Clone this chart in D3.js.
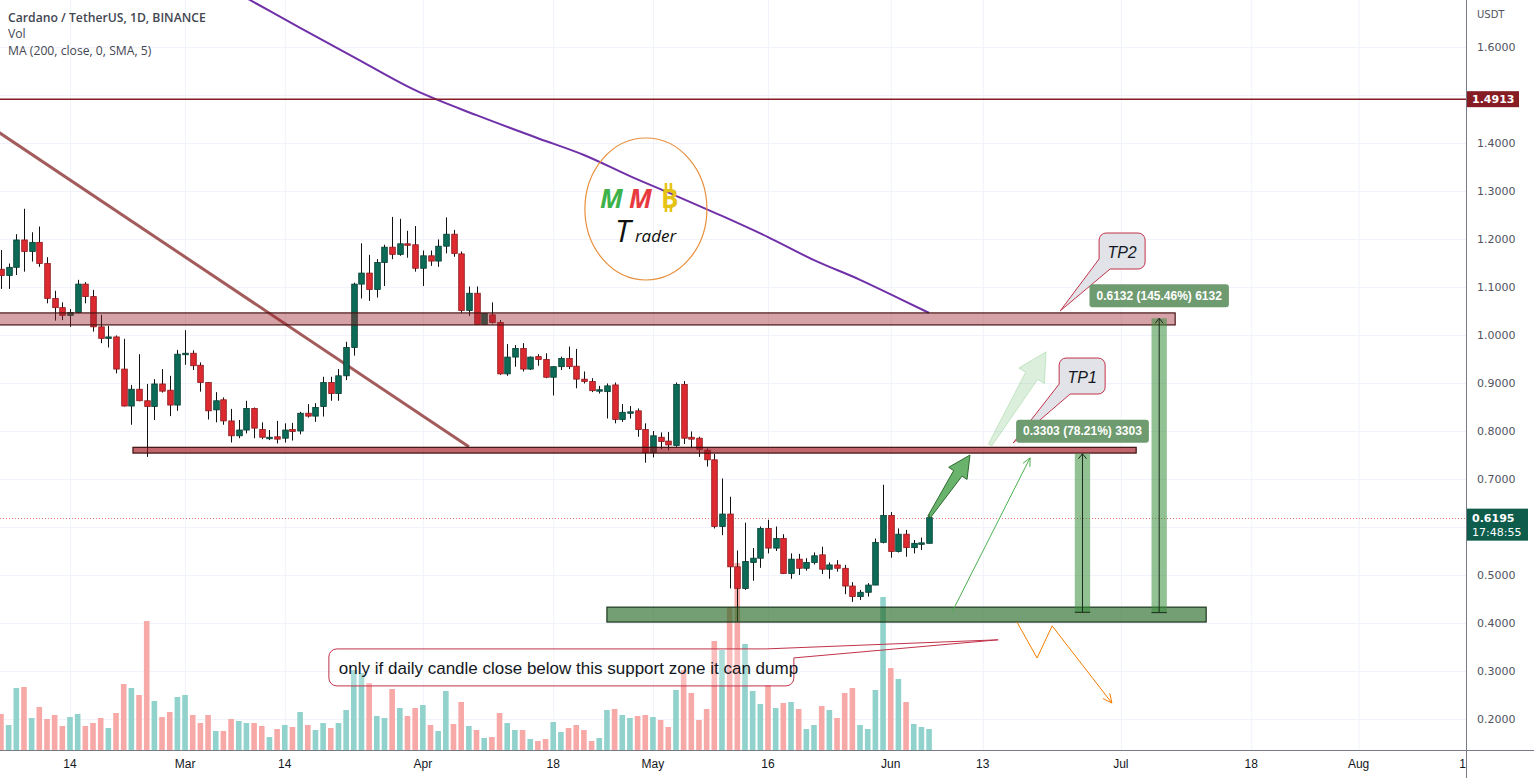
<!DOCTYPE html>
<html><head><meta charset="utf-8">
<script src="https://cdn.jsdelivr.net/npm/d3@7"></script>
<style>html,body{margin:0;padding:0;background:#fff;overflow:hidden}svg{display:block}</style>
</head><body>
<svg id="c" width="1534" height="778"></svg>
<script>
// ---------------- DATA ----------------
const firstDay = "2022-02-05", lastDay = "2022-06-06";
const dates = d3.utcDay.range(new Date(firstDay), d3.utcDay.offset(new Date(lastDay), 1));
const opens  = [1.137,1.124,1.141,1.198,1.174,1.193,1.149,1.076,1.057,1.041,1.047,1.106,1.080,1.017,0.995,0.996,0.929,0.852,0.887,0.863,0.851,0.898,0.885,0.854,0.961,0.962,0.937,0.901,0.844,0.865,0.821,0.790,0.802,0.847,0.803,0.786,0.788,0.785,0.803,0.800,0.837,0.831,0.851,0.901,0.878,0.915,0.974,1.106,1.129,1.095,1.151,1.183,1.168,1.190,1.188,1.139,1.165,1.154,1.185,1.210,1.169,1.051,1.087,1.022,1.042,1.026,0.919,0.954,0.972,0.929,0.955,0.949,0.912,0.934,0.951,0.935,0.908,0.903,0.885,0.882,0.896,0.824,0.838,0.842,0.803,0.755,0.787,0.779,0.770,0.897,0.787,0.785,0.760,0.740,0.601,0.627,0.517,0.472,0.526,0.535,0.597,0.556,0.576,0.503,0.533,0.514,0.526,0.542,0.512,0.521,0.514,0.477,0.455,0.464,0.479,0.568,0.624,0.549,0.585,0.557,0.566,0.566];
const highs  = [1.177,1.149,1.210,1.263,1.214,1.226,1.162,1.092,1.068,1.054,1.115,1.110,1.094,1.042,1.019,0.999,0.992,0.896,0.960,0.898,0.908,0.929,0.915,0.969,1.010,0.968,0.943,0.902,0.881,0.870,0.846,0.823,0.863,0.849,0.818,0.802,0.821,0.816,0.817,0.840,0.856,0.858,0.913,0.913,0.929,0.986,1.109,1.191,1.167,1.158,1.188,1.246,1.242,1.217,1.227,1.176,1.176,1.199,1.245,1.219,1.174,1.101,1.101,1.046,1.068,1.031,0.981,0.979,0.983,0.955,0.960,0.962,0.935,0.955,0.976,0.971,0.924,0.910,0.894,0.899,0.901,0.856,0.852,0.847,0.816,0.800,0.797,0.798,0.901,0.904,0.799,0.788,0.764,0.752,0.701,0.663,0.551,0.609,0.556,0.601,0.615,0.601,0.585,0.545,0.544,0.535,0.547,0.559,0.526,0.531,0.521,0.485,0.469,0.483,0.576,0.688,0.631,0.597,0.594,0.573,0.578,0.628];
const lows   = [1.096,1.096,1.125,1.132,1.153,1.142,1.066,1.030,1.031,1.017,1.045,1.066,1.007,0.983,0.974,0.920,0.851,0.813,0.862,0.746,0.823,0.880,0.831,0.842,0.938,0.927,0.882,0.824,0.818,0.813,0.776,0.785,0.795,0.785,0.783,0.781,0.774,0.776,0.780,0.793,0.828,0.819,0.830,0.863,0.863,0.906,0.957,1.076,1.071,1.078,1.102,1.158,1.165,1.161,1.132,1.102,1.144,1.142,1.170,1.163,1.046,1.040,1.021,1.021,1.024,0.917,0.915,0.934,0.924,0.927,0.936,0.910,0.874,0.927,0.929,0.889,0.899,0.881,0.878,0.826,0.816,0.819,0.826,0.788,0.734,0.745,0.762,0.760,0.767,0.773,0.764,0.746,0.726,0.597,0.583,0.472,0.403,0.469,0.488,0.515,0.545,0.550,0.502,0.492,0.500,0.509,0.522,0.502,0.492,0.507,0.460,0.444,0.448,0.455,0.479,0.566,0.536,0.547,0.538,0.545,0.552,0.566];
const closes = [1.124,1.141,1.198,1.174,1.193,1.149,1.076,1.057,1.041,1.047,1.106,1.080,1.017,0.993,0.996,0.929,0.852,0.887,0.863,0.851,0.898,0.883,0.854,0.960,0.962,0.936,0.901,0.842,0.863,0.821,0.790,0.802,0.847,0.806,0.787,0.787,0.783,0.802,0.799,0.837,0.831,0.849,0.901,0.878,0.915,0.974,1.106,1.129,1.095,1.151,1.183,1.168,1.190,1.188,1.139,1.165,1.154,1.185,1.210,1.170,1.051,1.087,1.022,1.045,1.026,0.919,0.954,0.972,0.929,0.954,0.949,0.912,0.934,0.951,0.934,0.908,0.903,0.884,0.886,0.894,0.824,0.839,0.840,0.803,0.755,0.790,0.778,0.771,0.897,0.785,0.783,0.762,0.740,0.601,0.627,0.517,0.472,0.528,0.535,0.597,0.556,0.576,0.503,0.533,0.514,0.526,0.540,0.512,0.521,0.514,0.477,0.455,0.464,0.479,0.568,0.624,0.549,0.585,0.557,0.566,0.567,0.6195];
const volumes = [180,125,310,315,160,215,155,175,120,165,180,120,135,160,110,185,330,310,275,645,245,165,190,265,275,175,135,175,95,95,155,145,135,135,120,65,105,125,115,190,125,100,135,110,135,200,400,385,335,170,160,305,210,170,210,225,125,95,295,130,240,120,100,60,65,185,135,100,100,55,45,55,140,90,110,125,100,45,60,200,205,175,160,170,175,165,150,115,300,400,285,150,205,545,500,715,935,530,295,230,325,210,235,240,205,105,125,220,200,160,285,310,125,105,300,765,410,355,240,130,115,105];
const maDates  = ["2022-03-04","2022-03-09","2022-03-16","2022-03-23","2022-03-31","2022-04-08","2022-04-16","2022-04-22","2022-04-28","2022-05-04","2022-05-10","2022-05-16","2022-05-22","2022-05-28","2022-06-02","2022-06-06"];
const maValues = [1.746,1.702,1.640,1.579,1.510,1.458,1.410,1.375,1.331,1.290,1.248,1.204,1.156,1.115,1.077,1.046];
const priceTicks = [0.2,0.3,0.4,0.5,0.6,0.7,0.8,0.9,1.0,1.1,1.2,1.3,1.4,1.5,1.6];
const hiddenPriceTicks = [0.6,1.5];   // covered by the price labels in the reference
const timeTicks = ["2022-02-14","2022-03-01","2022-03-14","2022-04-01","2022-04-18","2022-05-01","2022-05-16","2022-06-01","2022-06-13","2022-07-01","2022-07-18","2022-08-01","2022-08-15"];
const timeTickLabels = ["14","Mar","14","Apr","18","May","16","Jun","13","Jul","18","Aug","15"];
const lastPrice = 0.6195, lastCountdown = "17:48:55";
const hLinePrice = 1.4913;
const resistanceZone = {from:"2022-01-20", to:"2022-07-08T02:00Z", top:1.046, bottom:1.021};
const midZone = {from:"2022-02-22T05:00Z", to:"2022-07-03", top:0.766, bottom:0.754};
const supportZone = {from:"2022-04-25", to:"2022-07-12T03:00Z", top:0.433, bottom:0.402};
const trendLine = [["2022-02-04",1.430],["2022-04-07",0.767]];
const ranges = [
  {from:"2022-06-25", to:"2022-06-27", p0:0.4223, p1:0.7526, label:"0.3303 (78.21%) 3303"},
  {from:"2022-07-05", to:"2022-07-07", p0:0.4216, p1:1.0348, label:"0.6132 (145.46%) 6132"}];
const solidArrow = [["2022-06-06",0.621],["2022-06-11T08:00Z",0.75]];
const fadedArrow = [["2022-06-13T23:00Z",0.771],["2022-06-21T06:00Z",0.965]];
const thinArrow  = [["2022-06-09",0.423],["2022-06-19T04:00Z",0.744]];
const zigzag = [["2022-06-17T11:00Z",0.402],["2022-06-20T02:00Z",0.327],["2022-06-22T01:00Z",0.394],["2022-06-29T20:00Z",0.2333]];
const callouts = [
  {text:"TP2", box:["2022-06-28T04:00Z",1.2125], tip:["2022-06-23T02:00Z",1.05]},
  {text:"TP1", box:["2022-06-22T23:00Z",0.952], tip:["2022-06-16T23:00Z",0.775]}];
const note = {text:"only if daily candle close below this support zone it can dump", box:["2022-03-19T18:00Z",0.346], tip:["2022-06-15",0.365]};
const logoAt = ["2022-04-30T02:00Z",1.2625];

// ---------------- SCALES ----------------
const PR = 1466, PB = 750;
const x = d3.scaleUtc().domain([new Date("2022-02-14"), new Date("2022-08-15")]).range([70, PR]);
const y = d3.scaleLinear().domain([0.2, 1.6]).range([719, 47]);
const yv = d3.scaleLinear().domain([0, 1000]).range([PB, PB - 200]);
const X = s => x(new Date(s)), P = a => [X(a[0]), y(a[1])];

const svg = d3.select("#c");
svg.append("rect").attr("width",1534).attr("height",778).attr("fill","#fff");
svg.append("defs").append("clipPath").attr("id","clip").append("rect").attr("x",0).attr("y",0).attr("width",PR).attr("height",PB);
const g = svg.append("g").attr("clip-path","url(#clip)");

// grid
g.selectAll("line.vg").data(timeTicks).join("line").attr("x1",d=>X(d)+0.5).attr("x2",d=>X(d)+0.5).attr("y1",0).attr("y2",PB).attr("stroke","#f0f3fa");
g.selectAll("line.hg").data(priceTicks).join("line").attr("x1",0).attr("x2",PR).attr("y1",d=>Math.round(y(d))+0.5).attr("y2",d=>Math.round(y(d))+0.5).attr("stroke","#f0f3fa");

const idx = d3.range(dates.length);
const up = i => closes[i] >= opens[i];
// volume
const bw = 5.6;
g.selectAll("rect.vol").data(idx).join("rect")
  .attr("x", i => x(dates[i]) - bw/2).attr("width", bw)
  .attr("y", i => yv(volumes[i])).attr("height", i => PB - yv(volumes[i]))
  .attr("fill", i => up(i) ? "#92d2cc" : "#f7a9a7");

// MA 200
g.append("path").datum(maDates.map((d,i)=>[d,maValues[i]]))
  .attr("d", d3.line().x(d=>X(d[0])).y(d=>y(d[1])).curve(d3.curveMonotoneX))
  .attr("fill","none").attr("stroke","#7030a8").attr("stroke-width",2);

// horizontal line
g.append("line").attr("x1",0).attr("x2",PR).attr("y1",y(hLinePrice)).attr("y2",y(hLinePrice)).attr("stroke","#861c24").attr("stroke-width",1.5);

// trend line
g.append("line").attr("x1",P(trendLine[0])[0]).attr("y1",P(trendLine[0])[1]).attr("x2",P(trendLine[1])[0]).attr("y2",P(trendLine[1])[1])
  .attr("stroke","rgba(140,50,50,0.8)").attr("stroke-width",3);

// last price dotted line
g.append("line").attr("x1",0).attr("x2",PR).attr("y1",Math.round(y(lastPrice))+0.5).attr("y2",Math.round(y(lastPrice))+0.5)
  .attr("stroke","#e57373").attr("stroke-dasharray","1,2");

// candles
g.selectAll("line.wick").data(idx).join("line")
  .attr("x1", i => Math.round(x(dates[i]))+0.5).attr("x2", i => Math.round(x(dates[i]))+0.5)
  .attr("y1", i => y(highs[i])).attr("y2", i => y(lows[i])).attr("stroke","#111").attr("stroke-width",1);
g.selectAll("rect.body").data(idx).join("rect")
  .attr("x", i => Math.round(x(dates[i])) + 0.5 - bw/2).attr("width", bw)
  .attr("y", i => y(Math.max(opens[i],closes[i])))
  .attr("height", i => Math.max(1.5, Math.abs(y(opens[i]) - y(closes[i]))))
  .attr("fill", i => up(i) ? "#0b6b57" : "#dc2a30")
  .attr("stroke", i => up(i) ? "#063d32" : "#8e1a1e").attr("stroke-width",0.8);

// zones
function zone(z, fill, stroke){
  g.append("rect").attr("x",X(z.from)).attr("width",X(z.to)-X(z.from))
   .attr("y",y(z.top)).attr("height",y(z.bottom)-y(z.top))
   .attr("fill",fill).attr("stroke",stroke).attr("stroke-width",1.2);
}
zone(resistanceZone,"rgba(155,35,45,0.42)","#4a1515");
zone(midZone,"rgba(160,20,30,0.65)","#3d1010");
zone(supportZone,"rgba(30,100,30,0.62)","#1d361d");

// price ranges (bars)
ranges.forEach(r => {
  const x0 = X(r.from), x1 = X(r.to), xc = (x0+x1)/2, yt = y(r.p1), yb = y(r.p0);
  g.append("rect").attr("x",x0).attr("width",x1-x0).attr("y",yt).attr("height",yb-yt).attr("fill","rgba(56,142,60,0.55)");
  g.append("line").attr("x1",xc).attr("x2",xc).attr("y1",yb).attr("y2",yt).attr("stroke","#1b2a1b").attr("stroke-width",1);
  g.append("path").attr("d",`M${xc-4},${yt+5}L${xc},${yt}L${xc+4},${yt+5}`).attr("fill","none").attr("stroke","#1b2a1b");
  g.append("line").attr("x1",x0).attr("x2",x1).attr("y1",yb).attr("y2",yb).attr("stroke","#1b2a1b");
});

// arrows
function arrowPoly(a, b, ws0, ws1, wh, hl){
  const dx=b[0]-a[0], dy=b[1]-a[1], L=Math.hypot(dx,dy), ux=dx/L, uy=dy/L, nx=-uy, ny=ux;
  const bx=b[0]-ux*hl, by=b[1]-uy*hl;
  return [[a[0]+nx*ws0,a[1]+ny*ws0],[bx+nx*ws1,by+ny*ws1],[bx+nx*wh,by+ny*wh],b,[bx-nx*wh,by-ny*wh],[bx-nx*ws1,by-ny*ws1],[a[0]-nx*ws0,a[1]-ny*ws0]];
}
const sa = arrowPoly(P(solidArrow[0]),P(solidArrow[1]),1.5,5,11,22);
g.append("polygon").attr("points",sa.map(p=>p.join(",")).join(" ")).attr("fill","rgba(67,160,71,0.8)").attr("stroke","#2e6b30").attr("stroke-width",1);
const fa = arrowPoly(P(fadedArrow[0]),P(fadedArrow[1]),2,7,15,28);
g.append("polygon").attr("points",fa.map(p=>p.join(",")).join(" ")).attr("fill","rgba(76,175,80,0.2)").attr("stroke","rgba(76,175,80,0.25)");
(function(){
  const a=P(thinArrow[0]), b=P(thinArrow[1]);
  g.append("line").attr("x1",a[0]).attr("y1",a[1]).attr("x2",b[0]).attr("y2",b[1]).attr("stroke","#4caf50").attr("stroke-width",1);
  const ang=Math.atan2(b[1]-a[1],b[0]-a[0]), L=9, s=0.45;
  g.append("path").attr("d",`M${b[0]-L*Math.cos(ang-s)},${b[1]-L*Math.sin(ang-s)}L${b[0]},${b[1]}L${b[0]-L*Math.cos(ang+s)},${b[1]-L*Math.sin(ang+s)}`)
   .attr("fill","none").attr("stroke","#4caf50");
})();
(function(){
  const pts = zigzag.map(P);
  g.append("path").attr("d",d3.line()(pts)).attr("fill","none").attr("stroke","#f57c00").attr("stroke-width",1);
  const a=pts[pts.length-2], b=pts[pts.length-1], ang=Math.atan2(b[1]-a[1],b[0]-a[0]), L=10, s=0.45;
  g.append("path").attr("d",`M${b[0]-L*Math.cos(ang-s)},${b[1]-L*Math.sin(ang-s)}L${b[0]},${b[1]}L${b[0]-L*Math.cos(ang+s)},${b[1]-L*Math.sin(ang+s)}`)
   .attr("fill","none").attr("stroke","#f57c00");
})();

// callouts TP
callouts.forEach(c => {
  const [bx,by] = P(c.box), [tx,ty] = P(c.tip), w=46, h=36, r=7;
  const x1=bx+w, y1=by+h;
  const d = `M${bx+r},${by}H${x1-r}A${r},${r} 0 0 1 ${x1},${by+r}V${y1-r}A${r},${r} 0 0 1 ${x1-r},${y1}H${bx+11}L${tx},${ty}L${bx},${y1-10}V${by+r}A${r},${r} 0 0 1 ${bx+r},${by}Z`;
  g.append("path").attr("d",d).attr("fill","#e1e3e8").attr("stroke","#c2334a").attr("stroke-width",1);
  g.append("text").attr("x",bx+w/2).attr("y",by+h/2+1).attr("text-anchor","middle").attr("dominant-baseline","central")
   .attr("font-family","'Liberation Sans Narrow', 'Liberation Sans', sans-serif").attr("font-style","italic").attr("font-size",16).attr("fill","#131722").text(c.text);
});

// price range labels (above the callouts)
ranges.forEach(r => {
  const x0 = X(r.from), x1 = X(r.to), xc = (x0+x1)/2, yt = y(r.p1), lh = 23;
  const lbg = g.append("rect").attr("y",yt-11-lh).attr("height",lh).attr("rx",3).attr("fill","#6f9b70");
  const t = g.append("text").attr("x",xc).attr("y",yt-11-lh/2).attr("text-anchor","middle").attr("dominant-baseline","central")
   .attr("font-family","Liberation Sans, Arial, sans-serif").attr("font-size",12).attr("font-weight","bold").attr("fill","#fff").text(r.label);
  const lw = t.node().getComputedTextLength() + 14;
  lbg.attr("x",xc-lw/2).attr("width",lw);
});

// bottom note
(function(){
  const [bx,by] = P(note.box), [tx,ty] = P(note.tip), w=465, h=37, r=8, x1=bx+w, y1=by+h;
  const d = `M${bx+r},${by}H${x1-28}L${tx},${ty}L${x1},${by+9}V${y1-r}A${r},${r} 0 0 1 ${x1-r},${y1}H${bx+r}A${r},${r} 0 0 1 ${bx},${y1-r}V${by+r}A${r},${r} 0 0 1 ${bx+r},${by}Z`;
  g.append("path").attr("d",d).attr("fill","rgba(255,255,255,0.25)").attr("stroke","#c2334a").attr("stroke-width",1);
  g.append("text").attr("x",bx+10).attr("y",by+h/2+1).attr("dominant-baseline","central")
   .attr("font-family","'Liberation Sans Narrow', 'Liberation Sans', sans-serif").attr("font-size",17).attr("fill","#131722").text(note.text);
})();

// logo
(function(){
  const [cx,cy] = P(logoAt);
  const lg = g.append("g");
  lg.append("ellipse").attr("cx",cx).attr("cy",cy).attr("rx",61).attr("ry",71).attr("fill","none").attr("stroke","#e8903e").attr("stroke-width",1.2);
  const f = "'Open Sans', sans-serif";
  lg.append("text").attr("x",cx-46).attr("y",cy-1).attr("font-family",f).attr("font-weight","bold").attr("font-style","italic").attr("font-size",26).attr("fill","#3db24a").text("M");
  lg.append("text").attr("x",cx-17).attr("y",cy-1).attr("font-family",f).attr("font-weight","bold").attr("font-style","italic").attr("font-size",26).attr("fill","#e8393f").text("M");
  lg.append("text").attr("x",cx+15).attr("y",cy-1).attr("font-family",f).attr("font-weight","bold").attr("font-size",26).attr("fill","#e5c417").text("B");
  [[cx+20,cy-26,cy-17],[cx+25,cy-26,cy-17],[cx+20,cy-4,cy+3],[cx+25,cy-4,cy+3]].forEach(l=>
    lg.append("line").attr("x1",l[0]).attr("x2",l[0]).attr("y1",l[1]).attr("y2",l[2]).attr("stroke","#e5c417").attr("stroke-width",2.6));
  lg.append("text").attr("x",cx-31).attr("y",cy+33).attr("font-family",f).attr("font-style","italic").attr("font-size",31).attr("fill","#111").text("T");
  lg.append("text").attr("x",cx-11).attr("y",cy+33).attr("font-family",f).attr("font-style","italic").attr("font-size",17).attr("fill","#111").text("rader");
})();

// ---------------- AXES ----------------
svg.append("rect").attr("x",PR+0.5).attr("y",0).attr("width",1534-PR).attr("height",778).attr("fill","#fff");
svg.append("rect").attr("x",0).attr("y",PB+0.5).attr("width",PR).attr("height",778-PB).attr("fill","#fff");
const xa = svg.append("g");
xa.selectAll("text").data(timeTicks).join("text").attr("x",d=>X(d)).attr("y",768)
  .attr("text-anchor","middle").attr("font-family","'Liberation Sans', Arial, sans-serif").attr("font-size",12).attr("fill","#131722")
  .text((d,i)=>timeTickLabels[i]);
svg.append("rect").attr("x",PR+0.5).attr("y",PB).attr("width",1534-PR).attr("height",778-PB).attr("fill","#fff");
svg.append("line").attr("x1",0).attr("x2",1534).attr("y1",PB+0.5).attr("y2",PB+0.5).attr("stroke","#787b86");
svg.append("line").attr("x1",PR+0.5).attr("x2",PR+0.5).attr("y1",0).attr("y2",778).attr("stroke","#787b86");
const ya = svg.append("g");
ya.selectAll("text").data(priceTicks.filter(d => !hiddenPriceTicks.includes(d))).join("text").attr("x",1477).attr("y",d=>y(d)).attr("dominant-baseline","central")
  .attr("font-family","'DejaVu Sans', Verdana, sans-serif").attr("font-size",11).attr("fill","#50535e").text(d=>d.toFixed(4));
svg.append("text").attr("x",1477).attr("y",14).attr("dominant-baseline","central").attr("font-family","'DejaVu Sans', Verdana, sans-serif").attr("font-size",10).attr("fill","#50535e").text("USDT");
// hline label
svg.append("rect").attr("x",PR+1).attr("y",y(hLinePrice)-8).attr("width",52).attr("height",16).attr("fill","#861c24");
svg.append("text").attr("x",1472).attr("y",y(hLinePrice)+0.5).attr("dominant-baseline","central").attr("font-family","'DejaVu Sans', Verdana, sans-serif").attr("font-size",11).attr("font-weight","bold").attr("fill","#fff").text(hLinePrice.toFixed(4));
// last price label
svg.append("rect").attr("x",PR+1).attr("y",y(lastPrice)-9).attr("width",61).attr("height",32).attr("fill","#0d5c4c");
svg.append("text").attr("x",1472).attr("y",y(lastPrice)+0.5).attr("dominant-baseline","central").attr("font-family","'DejaVu Sans', Verdana, sans-serif").attr("font-size",11).attr("font-weight","bold").attr("fill","#fff").text(lastPrice.toFixed(4));
svg.append("text").attr("x",1472).attr("y",y(lastPrice)+14.5).attr("dominant-baseline","central").attr("font-family","'DejaVu Sans', Verdana, sans-serif").attr("font-size",11).attr("fill","#fff").text(lastCountdown);

// legend
const lf = "'Open Sans', sans-serif";
svg.append("text").attr("x",8).attr("y",17).attr("dominant-baseline","central").attr("font-family",lf).attr("font-size",12.2).attr("font-weight",600).attr("fill","#434651").text("Cardano / TetherUS, 1D, BINANCE");
svg.append("text").attr("x",8).attr("y",33).attr("dominant-baseline","central").attr("font-family",lf).attr("font-size",12.2).attr("fill","#434651").text("Vol");
svg.append("text").attr("x",8).attr("y",50).attr("dominant-baseline","central").attr("font-family",lf).attr("font-size",12.2).attr("fill","#434651").text("MA (200, close, 0, SMA, 5)");
</script>
</body></html>
